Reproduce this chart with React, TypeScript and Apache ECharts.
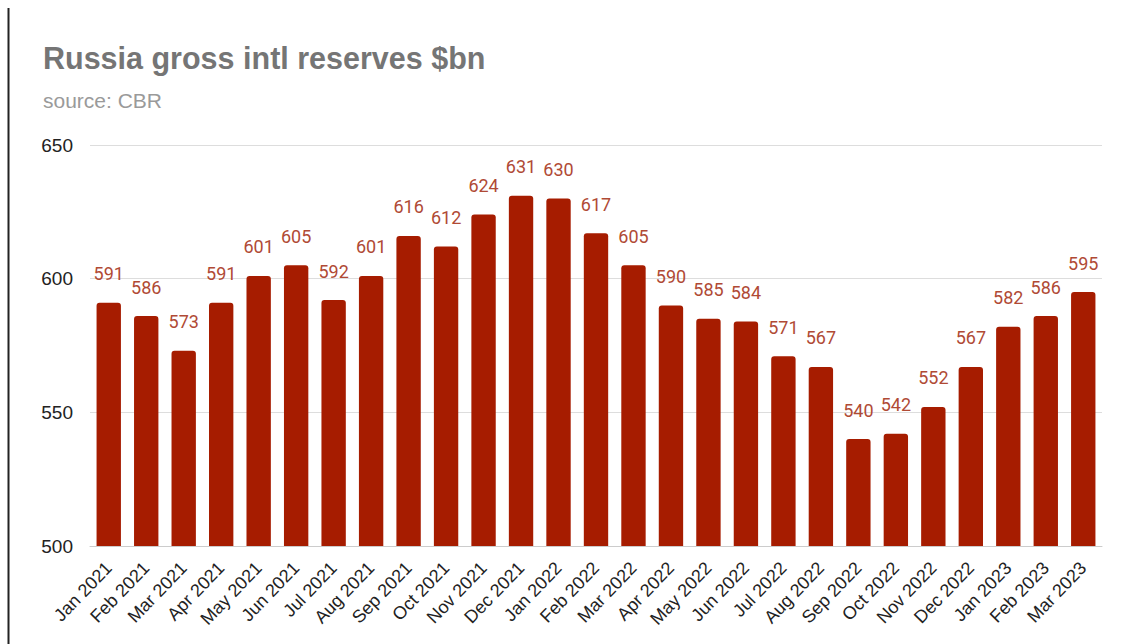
import React, { useEffect, useRef } from "react";
import * as echarts from "echarts";

const categories = [
  "Jan 2021", "Feb 2021", "Mar 2021", "Apr 2021", "May 2021", "Jun 2021", "Jul 2021",
  "Aug 2021", "Sep 2021", "Oct 2021", "Nov 2021", "Dec 2021", "Jan 2022", "Feb 2022",
  "Mar 2022", "Apr 2022", "May 2022", "Jun 2022", "Jul 2022", "Aug 2022", "Sep 2022",
  "Oct 2022", "Nov 2022", "Dec 2022", "Jan 2023", "Feb 2023", "Mar 2023",
];
const reserves = [
  591, 586, 573, 591, 601, 605, 592, 601, 616, 612, 624, 631, 630, 617,
  605, 590, 585, 584, 571, 567, 540, 542, 552, 567, 582, 586, 595,
];
const yMin = 500;
const yMax = 650;
const yStep = 50;

const titleText = "Russia gross intl reserves $bn";
const subtitleText = "source: CBR";

export default function App() {
  const ref = useRef<HTMLDivElement>(null);
  useEffect(() => {
    if (!ref.current) return;
    const chart = echarts.init(ref.current, null, { renderer: "svg" });
    chart.setOption({
      animation: false,
      backgroundColor: "#ffffff",
      title: [
        {
          text: titleText,
          left: 38,
          top: 37,
          textStyle: { fontFamily: "Liberation Sans, Arial", fontSize: 30.5, fontWeight: "bold", color: "#757575" },
        },
        {
          text: subtitleText,
          left: 38,
          top: 85,
          textStyle: { fontFamily: "Liberation Sans, Arial", fontSize: 21, fontWeight: "normal", color: "#9a9a9a" },
        },
      ],
      graphic: [
        {
          type: "line",
          shape: { x1: 8.5, y1: 8, x2: 8.5, y2: 644 },
          style: { stroke: "#222222", lineWidth: 2 },
        },
      ],
      grid: { left: 90, right: 29, top: 145, bottom: 98, containLabel: false },
      xAxis: {
        type: "category",
        data: categories,
        axisLine: { show: true, lineStyle: { color: "#cccccc" } },
        axisTick: { show: false },
        axisLabel: {
          rotate: 46,
          interval: 0,
          margin: 19,
          fontFamily: "Liberation Sans, Arial",
          fontSize: 18,
          color: "#222222",
        },
      },
      yAxis: {
        type: "value",
        min: yMin,
        max: yMax,
        interval: yStep,
        axisLine: { show: false },
        axisTick: { show: false },
        splitLine: { lineStyle: { color: "#dddddd" } },
        axisLabel: {
          margin: 17,
          fontFamily: "Liberation Sans, Arial",
          fontSize: 19,
          color: "#222222",
        },
      },
      series: [
        {
          type: "bar",
          data: reserves,
          barWidth: "65%",
          itemStyle: { color: "#a61c00", borderRadius: [3, 3, 0, 0] },
          label: {
            show: true,
            position: "top",
            distance: 20,
            fontFamily: "Roboto",
            fontSize: 18,
            color: "#b04a35",
          },
        },
      ],
    });
    return () => chart.dispose();
  }, []);
  return (
    <div
      ref={ref}
      style={{ position: "fixed", left: 0, top: 0, width: 1131, height: 644 }}
    />
  );
}
